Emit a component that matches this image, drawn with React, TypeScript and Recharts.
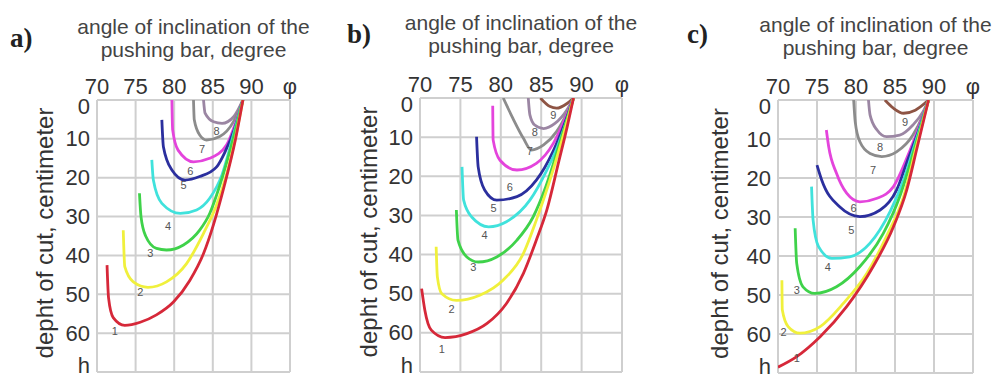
import React from 'react';
import { LineChart, Line, XAxis, YAxis, CartesianGrid, ReferenceDot } from 'recharts';

const xTicks = [70, 75, 80, 85, 90, 95];
const xTickLabels = ['70', '75', '80', '85', '90', 'φ'];
const yTicks = [0, 10, 20, 30, 40, 50, 60, 70];
const yTickLabels = ['0', '10', '20', '30', '40', '50', '60', 'h'];
const curveNames = ['1', '2', '3', '4', '5', '6', '7', '8', '9'];
const curveColors = ['#d62839', '#f0f03c', '#3fd24a', '#40e2dc', '#2b2f9e', '#e444dc', '#8c8c8c', '#9b86a3', '#8e5444'];
const panelLetters = ['a)', 'b)', 'c)'];
const titleLines = ['angle of inclination of the', 'pushing bar, degree'];
const yAxisTitle = 'depht of cut, centimeter';

// panel a
const phiA = [
  [71.3, 71.5, 72.1, 73.6, 75.6, 77.7, 79.9, 82.0, 83.8, 85.1, 86.5, 87.9, 88.9],
  [73.4, 73.6, 74.7, 76.6, 79.0, 81.6, 83.8, 85.4, 86.8, 87.9, 88.9],
  [75.5, 75.7, 76.3, 77.7, 79.0, 81.2, 83.3, 84.6, 85.9, 87.3, 88.9],
  [77.1, 77.3, 78.4, 80.8, 82.9, 84.6, 86.2, 87.6, 88.9],
  [78.4, 78.6, 79.7, 81.4, 83.3, 85.5, 86.6, 87.8, 88.9],
  [79.7, 79.8, 80.5, 82.5, 84.6, 86.8, 88.1, 88.9],
  [82.5, 82.6, 83.3, 84.2, 85.9, 87.7, 88.9],
  [83.8, 84.0, 85.1, 86.2, 87.7, 88.9],
];
const hA = [
  [42.5, 51, 56, 58, 57.2, 55.3, 52, 46.5, 39.5, 32, 22, 10.5, 0],
  [33.5, 42.9, 46.8, 48.2, 46.8, 42.1, 34.3, 27.5, 19, 10, 0],
  [24, 30, 35, 38.2, 38.6, 37.3, 33.5, 29.2, 22, 12.5, 0],
  [15.4, 20.6, 26.6, 29.2, 28.3, 25.3, 19.2, 9.5, 0],
  [5.1, 12, 18, 20.6, 19.7, 17.2, 13.3, 7.5, 0],
  [0, 7.7, 12.9, 15.9, 15.0, 11.5, 5, 0],
  [0, 5.1, 9, 10.3, 9.4, 5.5, 0],
  [0, 3.4, 5.6, 6, 4.3, 0],
];
const labelPhiA = [72.3, 75.6, 76.9, 79.2, 81.2, 82.1, 83.6, 85.5];
const labelHA = [59.5, 49.5, 39.5, 32.5, 22, 18.2, 12.5, 8];

// panel b
const phiB = [
  [70.2, 70.6, 71.4, 73.1, 75.8, 78.3, 80.7, 82.8, 84.4, 85.7, 87.2, 88.2, 89.0],
  [72.0, 72.15, 72.7, 74.5, 77.4, 80.3, 82.8, 84.4, 86.0, 87.4, 89.0],
  [74.5, 74.7, 75.8, 77.2, 79.5, 82.0, 84.0, 85.6, 87.3, 89.0],
  [75.2, 75.4, 76.4, 78.5, 80.7, 83.6, 85.7, 87.0, 88.2, 89.0],
  [77.0, 77.2, 78.0, 79.5, 82.0, 84.4, 86.5, 87.9, 89.0],
  [79.0, 79.05, 79.9, 82.0, 84.4, 86.5, 87.9, 89.0],
  [80.3, 81.5, 82.8, 83.8, 85.3, 86.9, 88.2, 89.0],
  [83.4, 83.6, 84.2, 85.3, 86.7, 88.2, 89.0],
  [84.9, 86.1, 86.9, 88.2, 89.0],
];
const hB = [
  [48.7, 54.2, 59.3, 61.2, 60.2, 57.6, 52.5, 44.8, 36.3, 28.6, 16, 7.5, 0],
  [38, 45.7, 50, 51.7, 50.4, 46.5, 39.7, 31.2, 21.5, 12, 0],
  [28.6, 36.3, 40.6, 41.9, 40.6, 36.3, 30.4, 22.5, 11.5, 0],
  [17.6, 26.1, 30.4, 32.9, 31.6, 26.1, 18.4, 12.5, 5.5, 0],
  [9.9, 17.6, 23.5, 26.1, 25.2, 21.0, 13.5, 6.5, 0],
  [2, 10.7, 15.9, 18.4, 16.7, 11.6, 5.6, 0],
  [0, 5.2, 10.3, 13.3, 12, 8.6, 3.8, 0],
  [0, 4.3, 6.9, 7.8, 6.5, 3.0, 0],
  [0, 2.2, 2.6, 1.4, 0],
];
const labelPhiB = [72.7, 73.9, 76.6, 78.0, 79.1, 81.1, 83.6, 84.2, 86.5];
const labelHB = [64.0, 53.8, 43.1, 35.0, 28.2, 22.7, 13.5, 8.6, 4.3];

// panel c
const phiC = [
  [70.0, 72.4, 75.4, 78.8, 82.2, 84.8, 86.5, 87.8, 89.3],
  [70.5, 70.55, 71.3, 72.8, 75.4, 78.4, 81.4, 83.9, 86.1, 87.7, 89.3],
  [72.2, 72.4, 73.2, 74.7, 77.5, 80.5, 83.5, 85.6, 87.5, 89.3],
  [74.3, 74.5, 75.2, 76.9, 79.2, 81.8, 84.4, 86.1, 87.6, 89.3],
  [75.0, 75.6, 77.9, 80.5, 83.1, 85.2, 86.7, 88.0, 89.3],
  [76.2, 76.5, 77.5, 78.8, 80.5, 82.7, 84.8, 86.9, 88.1, 89.3],
  [79.7, 79.9, 80.5, 81.8, 83.3, 85.2, 87.3, 88.6, 89.3],
  [81.6, 81.8, 82.7, 83.9, 85.6, 87.3, 88.6, 89.3],
  [83.7, 84.8, 86.1, 87.6, 89.3],
];
const hC = [
  [68.5, 65.8, 60.7, 53.0, 42.7, 32.5, 23.1, 12.5, 0],
  [46.2, 53.8, 58.1, 59.8, 58.1, 52.1, 44.4, 35.0, 24.8, 12.3, 0],
  [32.9, 41.9, 47.9, 49.6, 47.9, 42.7, 34.2, 24.8, 12.5, 0],
  [22.2, 30.8, 37.6, 40.6, 40.2, 36.7, 28.5, 20.5, 11, 0],
  [16.7, 20.5, 27.4, 29.9, 28.2, 23.1, 15, 8, 0],
  [7.7, 12, 18.8, 23.9, 26.1, 25.2, 22.2, 13, 6.8, 0],
  [0, 5.6, 10.7, 13.7, 14.5, 13.3, 9.0, 3.8, 0],
  [0, 3.8, 7.7, 9.4, 9.0, 6.4, 3.0, 0],
  [0, 2.1, 3.4, 2.6, 0],
];
const labelPhiC = [72.4, 70.7, 72.4, 76.4, 79.4, 79.7, 82.2, 83.1, 86.3];
const labelHC = [66.2, 59.4, 48.7, 42.7, 33.3, 27.8, 17.9, 12.0, 5.6];

const SANS = 'Liberation Sans, Arial, sans-serif';

const panels = [
  { phis: phiA, hs: hA, lp: labelPhiA, lh: labelHA },
  { phis: phiB, hs: hB, lp: labelPhiB, lh: labelHB },
  { phis: phiC, hs: hC, lp: labelPhiC, lh: labelHC },
];

const layouts = [
  { plotLeft: 97, plotTop: 100, plotW: 193, plotH: 272, letterX: 10, letterY: 47, titleY: 34, ylx: 44 },
  { plotLeft: 420, plotTop: 98, plotW: 202, plotH: 274, letterX: 347, letterY: 43, titleY: 30, ylx: 368 },
  { plotLeft: 778, plotTop: 100, plotW: 195, plotH: 273, letterX: 687, letterY: 43, titleY: 32, ylx: 719 },
];

const XTick = (props: any) => {
  const { x, y, payload } = props;
  const i = xTicks.indexOf(payload.value);
  return (
    <text x={x} y={y} textAnchor="middle" fill="#333" fontSize={22} fontFamily={SANS}>
      {xTickLabels[i]}
    </text>
  );
};

const YTick = (props: any) => {
  const { x, y, payload } = props;
  const i = yTicks.indexOf(payload.value);
  const dy = payload.value === 0 ? 14 : payload.value === 70 ? 1 : 7.5;
  return (
    <text x={x} y={y} dy={dy} textAnchor="end" fill="#333" fontSize={22} fontFamily={SANS}>
      {yTickLabels[i]}
    </text>
  );
};

function Panel({ idx }: { idx: number }) {
  const p = panels[idx];
  const L = layouts[idx];
  const yAxisW = 70;
  const xAxisH = 40;
  const mr = 10;
  const height = 380;
  const mb = height - L.plotTop - L.plotH;
  const width = yAxisW + L.plotW + mr;
  const order = p.phis.map((_, i) => i).reverse();
  return (
    <div style={{ position: 'absolute', left: L.plotLeft - yAxisW, top: 0 }}>
      <LineChart width={width} height={height} margin={{ top: L.plotTop - xAxisH, right: mr, bottom: mb, left: 0 }}>
        <CartesianGrid stroke="#cfcfcf" strokeWidth={2} />
        <XAxis
          type="number"
          dataKey="phi"
          orientation="top"
          domain={[70, 95]}
          ticks={xTicks}
          interval={0}
          height={xAxisH}
          axisLine={false}
          tickLine={false}
          tickSize={0}
          tickMargin={6}
          tick={(t: any) => <XTick {...t} />}
          allowDataOverflow
        />
        <YAxis
          type="number"
          dataKey="h"
          domain={[0, 70]}
          reversed
          ticks={yTicks}
          interval={0}
          width={yAxisW}
          axisLine={false}
          tickLine={false}
          tickSize={0}
          tickMargin={7}
          tick={(t: any) => <YTick {...t} />}
          allowDataOverflow
        />
        {order.map((i) => (
          <Line
            key={i}
            data={p.phis[i].map((v, k) => ({ phi: v, h: p.hs[i][k] }))}
            dataKey="h"
            type="monotone"
            stroke={curveColors[i]}
            strokeWidth={2.8}
            dot={false}
            isAnimationActive={false}
          />
        ))}
        {p.lp.map((v, i) => (
          <ReferenceDot
            key={'l' + i}
            x={v}
            y={p.lh[i]}
            r={0}
            shape={(s: any) => (
              <text x={s.cx} y={s.cy} dy={4} textAnchor="middle" fontSize={11} fill="#555" fontFamily={SANS}>
                {curveNames[i]}
              </text>
            )}
          />
        ))}
      </LineChart>
    </div>
  );
}

export default function App() {
  return (
    <div style={{ position: 'absolute', left: 0, top: 0, width: 1002, height: 380, background: '#fff', overflow: 'hidden' }}>
      <svg width={1002} height={380} style={{ position: 'absolute', left: 0, top: 0 }}>
        {layouts.map((L, i) => {
          const cx = L.plotLeft + L.plotW / 2;
          const cy = L.plotTop + L.plotH / 2 - 3;
          return (
            <g key={i}>
              <text x={L.letterX} y={L.letterY} fontFamily="Liberation Serif, Times New Roman, serif" fontWeight="bold" fontSize={27} fill="#222">
                {panelLetters[i]}
              </text>
              <text x={cx} y={L.titleY} textAnchor="middle" fontFamily={SANS} fontSize={21} fill="#444">
                {titleLines[0]}
              </text>
              <text x={cx} y={L.titleY + 23} textAnchor="middle" fontFamily={SANS} fontSize={21} fill="#444">
                {titleLines[1]}
              </text>
              <text
                transform={`translate(${L.ylx},${cy}) rotate(-90)`}
                textAnchor="middle"
                dominantBaseline="central"
                fontFamily={SANS}
                fontSize={24}
                fill="#333"
              >
                {yAxisTitle}
              </text>
            </g>
          );
        })}
      </svg>
      {panels.map((_, i) => (
        <Panel key={i} idx={i} />
      ))}
    </div>
  );
}
